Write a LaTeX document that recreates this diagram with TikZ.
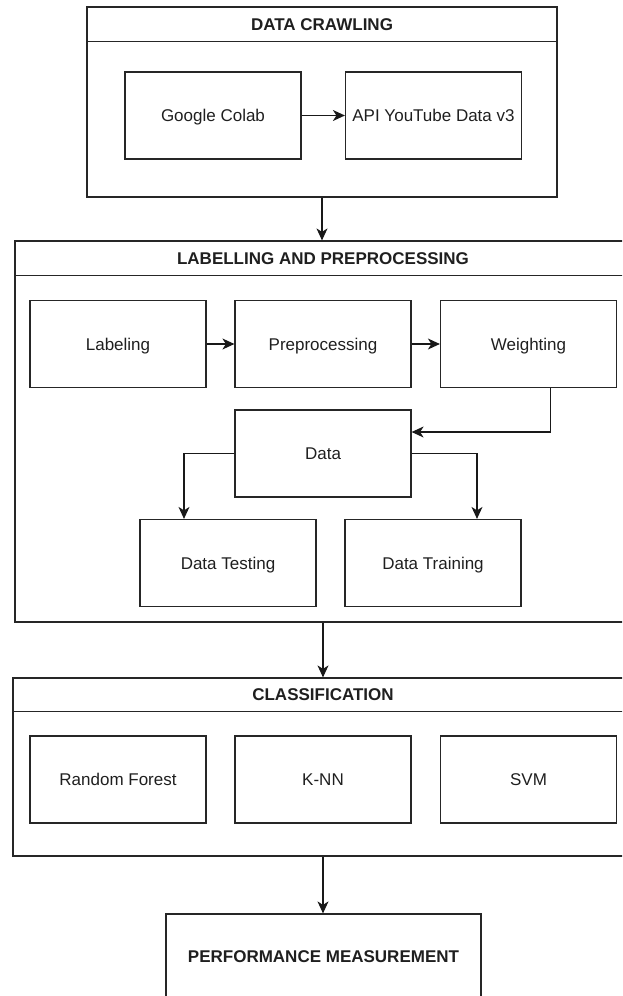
\documentclass[tikz,border=0pt]{standalone}
\usepackage{fontspec}
\setmainfont{Liberation Sans}
\usetikzlibrary{arrows.meta}
\begin{document}
\begin{tikzpicture}[x=1pt,y=-1pt,
  every node/.style={font=\fontsize{17}{20}\selectfont, text=black!88},
  box/.style={draw=black!85, line width=1.2pt, rectangle, minimum width=176pt, minimum height=87pt, inner sep=0pt, text depth=0pt},
  cont/.style={draw=black!85, line width=1.2pt, rectangle, inner sep=0pt},
  head/.style={font=\fontsize{17}{20}\selectfont\bfseries},
  conn/.style={draw=black!90, line width=1.2pt, -{Stealth[length=12pt,width=11pt,inset=3.5pt]}},
  sep/.style={draw=black!85, line width=1.2pt}]
\useasboundingbox (0,0) rectangle (622,996);
\clip (0,0) rectangle (622,996);

% Data crawling
\node[cont, minimum width=470pt, minimum height=190pt] (crawl) at (322,102) {};
\draw[sep] ([yshift=-35pt]crawl.north west) -- ([yshift=-35pt]crawl.north east);
\node[head] (crawlt) at (322,24.5) {DATA CRAWLING};
\node[box] (colab) at (213,115.5) {Google Colab};
\node[box] (api) at (433.5,115.5) {API YouTube Data v3};

% Labelling and preprocessing
\node[cont, minimum width=616pt, minimum height=381pt] (lab) at (323,431.5) {};
\draw[sep] ([yshift=-35pt]lab.north west) -- ([yshift=-35pt]lab.north east);
\node[head] (labt) at (323,258.5) {LABELLING AND PREPROCESSING};
\node[box] (labeling) at (118,344) {Labeling};
\node[box] (prep) at (323,344) {Preprocessing};
\node[box] (weight) at (528.5,344) {Weighting};
\node[box] (data) at (323,453.5) {Data};
\node[box] (test) at (228,563) {Data Testing};
\node[box] (train) at (433,563) {Data Training};

% Classification
\node[cont, minimum width=620pt, minimum height=178pt] (cls) at (323,767) {};
\draw[sep] ([yshift=-34pt]cls.north west) -- ([yshift=-34pt]cls.north east);
\node[head] (clst) at (323,695) {CLASSIFICATION};
\node[box] (rf) at (118,779.5) {Random Forest};
\node[box] (knn) at (323,779.5) {K-NN};
\node[box] (svm) at (528.5,779.5) {SVM};

% Performance
\node[box, minimum width=315pt, minimum height=86pt, font=\fontsize{17}{20}\selectfont\bfseries] (perf) at (323.5,957) {PERFORMANCE MEASUREMENT};

% connectors
\draw[conn] (colab.east) -- (api.west);
\draw[conn] (crawl.south) -- (crawl.south |- lab.north);
\draw[conn] (labeling.east) -- (prep.west);
\draw[conn] (prep.east) -- (weight.west);
\draw[conn] ([xshift=22pt]weight.south) |- ([yshift=21.5pt]data.east);
\draw[conn] (data.west) -| ([xshift=-44pt]test.north);
\draw[conn] (data.east) -| ([xshift=44pt]train.north);
\draw[conn] (lab.south) -- (lab.south |- cls.north);
\draw[conn] (cls.south) -- (cls.south |- perf.north);
\end{tikzpicture}
\end{document}
